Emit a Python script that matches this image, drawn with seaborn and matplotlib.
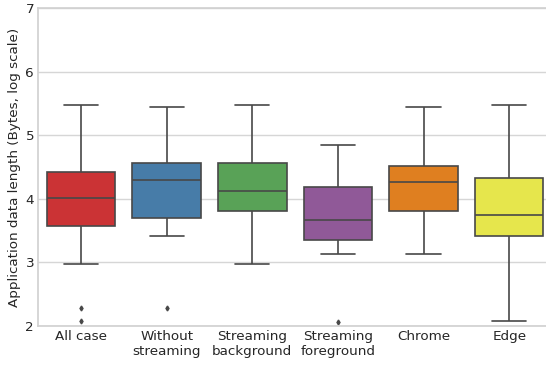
import numpy as np
import pandas as pd
import matplotlib
matplotlib.use("Agg")
import matplotlib.pyplot as plt
import seaborn as sns

# Per-group box statistics (log10 of application data length, bytes)
categories = ["All case", "Without\nstreaming", "Streaming\nbackground",
              "Streaming\nforeground", "Chrome", "Edge"]
whisker_low = [2.97, 3.41, 2.97, 3.13, 3.13, 2.08]
q1 = [3.57, 3.70, 3.80, 3.35, 3.80, 3.42]
median = [4.02, 4.29, 4.12, 3.665, 4.27, 3.74]
q3 = [4.42, 4.56, 4.57, 4.19, 4.52, 4.32]
whisker_high = [5.48, 5.445, 5.48, 4.84, 5.445, 5.48]
outliers = [[2.28, 2.08], [2.28], [], [2.07], [], []]
y_ticks = [2, 3, 4, 5, 6, 7]


def group_sample(lo, a, m, b, hi, extra):
    # Repeated quartile values keep the interpolated percentiles exact
    return list(extra) + [lo] + [a] * 4 + [m] * 4 + [b] * 4 + [hi]


rows = []
for i, cat in enumerate(categories):
    vals = group_sample(whisker_low[i], q1[i], median[i], q3[i],
                        whisker_high[i], outliers[i])
    rows += [(cat, v) for v in vals]
df = pd.DataFrame(rows, columns=["case", "length"])

sns.set_theme(style="whitegrid")
plt.rcParams["font.family"] = ["DejaVu Sans"]

fig = plt.figure(figsize=(5.46, 3.66), dpi=100)
ax = fig.add_axes([0.0701, 0.1093, 0.941, 0.869])

sns.boxplot(data=df, x="case", y="length", hue="case", order=categories,
            hue_order=categories, palette="Set1", legend=False, ax=ax,
            width=0.8, linewidth=1.2, fliersize=2.5,
            flierprops={"marker": "d", "markerfacecolor": "#484848",
                        "markeredgecolor": "#484848"})

ax.set_ylim(2, 7)
ax.set_yticks(y_ticks)
ax.set_xlabel("")
ax.set_ylabel("Application data length (Bytes, log scale)", fontsize=9.7,
              labelpad=3)
ax.tick_params(axis="both", labelsize=9.7, length=0, pad=3,
               labelcolor="#262626")
for side in ["left", "bottom", "top", "right"]:
    ax.spines[side].set_color("#d0d0d0")
    ax.spines[side].set_linewidth(1.2)
ax.grid(axis="y", color="#d6d6d6", linewidth=1.0)

fig.savefig("out.png", dpi=100)
